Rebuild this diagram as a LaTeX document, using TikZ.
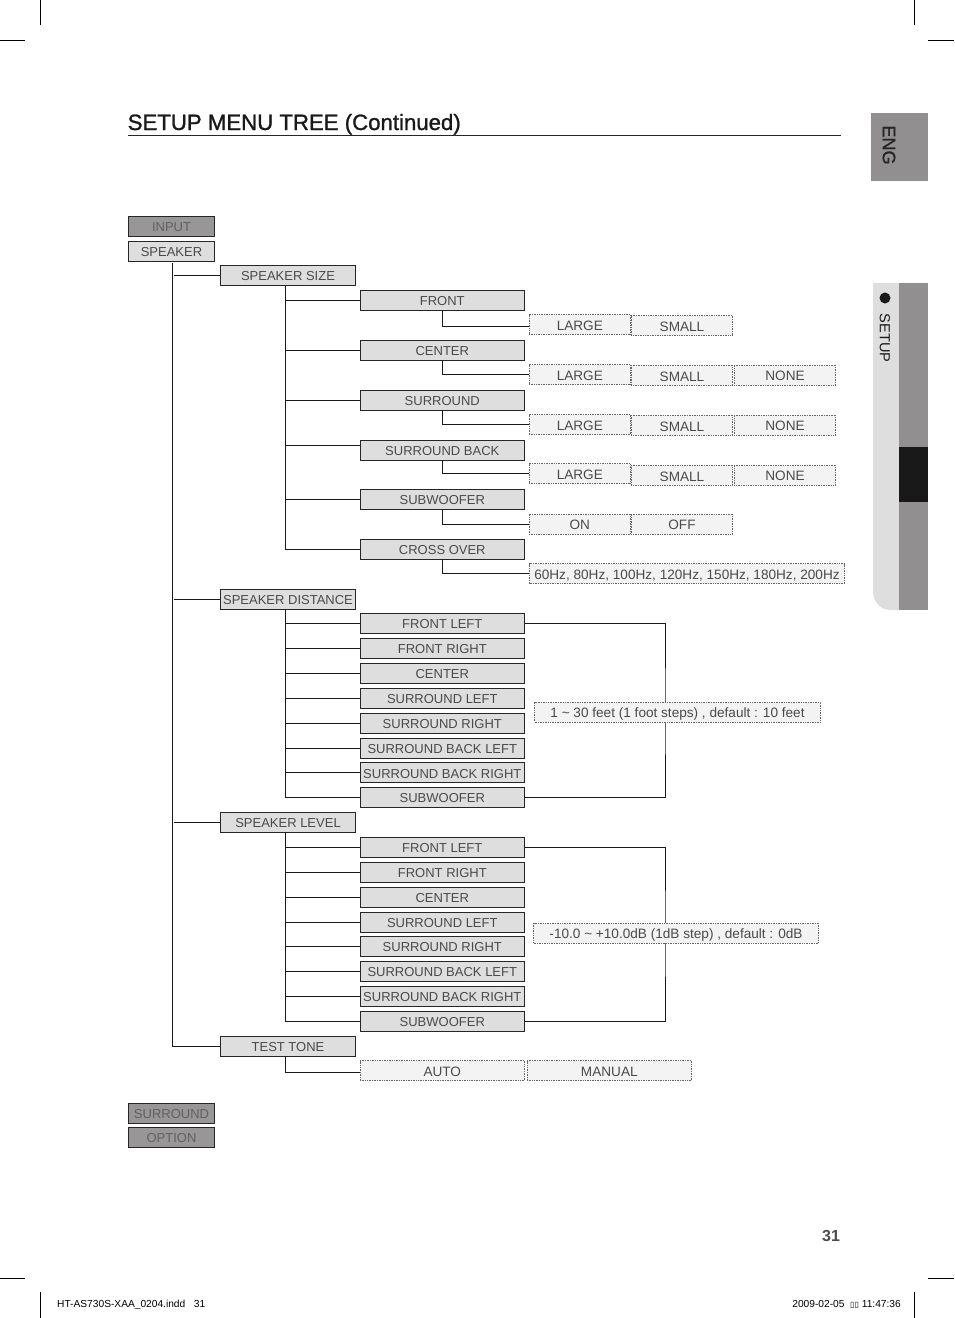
\documentclass[tikz,border=0pt]{standalone}
\usepackage{fontspec}
\setmainfont{Liberation Sans}
\newfontfamily\symfont{DejaVu Sans}
\newfontfamily\heavyfont[FakeBold=1.2]{Liberation Sans}
\usetikzlibrary{calc}
\definecolor{boxgray}{HTML}{DEDEDE}
\definecolor{darkgray}{HTML}{989696}
\definecolor{tabgray}{HTML}{918F90}
\definecolor{valgray}{HTML}{F3F3F3}
\definecolor{inkgray}{HTML}{4A4A4A}
\tikzset{
  menubox/.style={draw=black!85,line width=.9pt,fill=boxgray,text=inkgray,font=\fontsize{13}{14}\selectfont,
    inner sep=0pt,minimum height=20pt,text height=10.6pt,text depth=0pt},
  topbox/.style={menubox,minimum width=86.5pt},
  offbox/.style={topbox,fill=darkgray,text=black!62},
  midbox/.style={menubox,minimum width=135.5pt},
  subbox/.style={menubox,minimum width=164.5pt},
  valbox/.style={draw=black!60,densely dotted,line width=.7pt,fill=valgray,text=inkgray,font=\fontsize{13.6}{14}\selectfont,
    inner sep=0pt,minimum height=20pt,text height=11.6pt,text depth=0pt,minimum width=101.5pt},
  wire/.style={line width=1pt,black!90},
  crop/.style={line width=.6pt,black},
}
\begin{document}
\begin{tikzpicture}[x=1pt,y=-1pt]
\useasboundingbox (0,0) rectangle (954,1318);
% Crop marks
\draw[crop] (40.5,0) -- (40.5,25);
\draw[crop] (0,40.5) -- (25,40.5);
\draw[crop] (914,0) -- (914,25);
\draw[crop] (928,40.5) -- (954,40.5);
\draw[crop] (0,1278) -- (25,1278);
\draw[crop] (40.5,1292) -- (40.5,1318);
\draw[crop] (928,1278) -- (954,1278);
\draw[crop] (914,1292) -- (914,1318);
% Title
\node[anchor=base west,inner sep=0pt,font=\heavyfont\fontsize{22.2}{24}\selectfont,text=black!90] (title) at (127.5,130) {SETUP MENU TREE (Continued)};
\draw[line width=.7pt,black!85] (128,135.5) -- (841,135.5);
% Side tabs
\fill[tabgray] (871,113) rectangle (928,181);
\node[rotate=-90,inner sep=0pt,font=\heavyfont\fontsize{18}{20}\selectfont,text=black!85] (eng) at (889,145) {ENG};
\fill[boxgray] (873,283) -- (899,283) -- (899,610) -- (891,610) .. controls (880,610) and (873,602) .. (873,590) -- cycle;
\fill[tabgray] (899,283) rectangle (928,610);
\fill[black!90] (899,447) rectangle (928,502);
\fill[black!90] (885,298) circle (5.5);
\node[rotate=-90,inner sep=0pt,font=\fontsize{14.6}{16}\selectfont,text=black!90] (setup) at (885,338) {SETUP};
% Top level
\node[offbox] (input) at (171.5,226) {INPUT};
\node[topbox] (speaker) at (171.5,251) {SPEAKER};
\node[offbox] (surround) at (171.5,1113) {SURROUND};
\node[offbox] (option) at (171.5,1137.5) {OPTION};
% Second level
\node[midbox] (size) at (288,275.5) {SPEAKER SIZE};
\node[midbox] (distance) at (288,599) {SPEAKER DISTANCE};
\node[midbox] (level) at (288,822) {SPEAKER LEVEL};
\node[midbox] (tone) at (288,1046) {TEST TONE};
% Speaker size
\node[subbox] (front) at (442.3,300.5) {FRONT};
\node[subbox] (center) at (442.3,350) {CENTER};
\node[subbox] (back) at (442.3,400) {SURROUND};
\node[subbox] (rear) at (442.3,450) {SURROUND BACK};
\node[subbox] (woofer) at (442.3,499) {SUBWOOFER};
\node[subbox] (cross) at (442.3,549) {CROSS OVER};
\node[valbox] (frontlarge) at (579.8,324.8) {LARGE};
\node[valbox] (frontsmall) at (682,325.5) {SMALL};
\node[valbox] (centerlarge) at (579.8,374.8) {LARGE};
\node[valbox] (centersmall) at (682,375.3) {SMALL};
\node[valbox] (centernone) at (785,375) {NONE};
\node[valbox] (backlarge) at (579.8,424.5) {LARGE};
\node[valbox] (backsmall) at (682,425.3) {SMALL};
\node[valbox] (backnone) at (785,425) {NONE};
\node[valbox] (rearlarge) at (579.8,473.8) {LARGE};
\node[valbox] (rearsmall) at (682,475.3) {SMALL};
\node[valbox] (rearnone) at (785,475) {NONE};
\node[valbox] (wooferon) at (579.8,524) {ON};
\node[valbox] (wooferoff) at (682,524) {OFF};
\node[valbox,minimum width=315pt] (crossval) at (687,573.5) {60Hz, 80Hz, 100Hz, 120Hz, 150Hz, 180Hz, 200Hz};
% Speaker distance and level
\foreach \pre/\ya/\yb/\yc/\yd/\ye/\yf/\yg/\yh in {d/623.5/648.5/673.5/698.5/723.3/748/772.8/797.5,l/847/872.3/897/922.3/946.5/971.5/996.5/1021}{
  \node[subbox] (\pre fl) at (442.3,\ya) {FRONT LEFT};
  \node[subbox] (\pre fr) at (442.3,\yb) {FRONT RIGHT};
  \node[subbox] (\pre c) at (442.3,\yc) {CENTER};
  \node[subbox] (\pre sl) at (442.3,\yd) {SURROUND LEFT};
  \node[subbox] (\pre sr) at (442.3,\ye) {SURROUND RIGHT};
  \node[subbox] (\pre bl) at (442.3,\yf) {SURROUND BACK LEFT};
  \node[subbox] (\pre br) at (442.3,\yg) {SURROUND BACK RIGHT};
  \node[subbox] (\pre sub) at (442.3,\yh) {SUBWOOFER};
}
% Test tone
\node[valbox,minimum width=164.5pt] (auto) at (442.3,1070.5) {AUTO};
\node[valbox,minimum width=164.5pt] (manual) at (609.3,1070.5) {MANUAL};
% Trunks
\coordinate (speakertop) at ($(speaker.south)+(.8,0)$);
\coordinate (sizetop) at ($(size.south)+(-2.7,0)$);
\coordinate (distop) at ($(distance.south)+(-2.7,0)$);
\coordinate (levtop) at ($(level.south)+(-2.7,0)$);
\coordinate (tonetop) at ($(tone.south)+(-2.7,0)$);
\coordinate (rearstub) at ($(rear.west)+(0,-4.5)$);
\coordinate (frontstub) at ($(frontlarge.west)+(0,1.5)$);
\coordinate (autostub) at ($(auto.west)+(0,1.5)$);
\draw[wire,shorten <=2pt] (speakertop) |- (tone.west);
\foreach \kid in {size,distance,level}
  \draw[wire,shorten <=2pt] (speakertop |- \kid.west) -- (\kid.west);
\draw[wire] (sizetop) |- (cross.west);
\foreach \kid in {front,center,back,woofer}
  \draw[wire] (sizetop |- \kid.west) -- (\kid.west);
\draw[wire] (sizetop |- rearstub) -- (rearstub);
\draw[wire] (front.south) |- (frontstub);
\draw[wire] (center.south) |- (centerlarge.west);
\draw[wire] (back.south) |- (backlarge.west);
\draw[wire] (rear.south) |- (rearlarge.west);
\draw[wire] (woofer.south) |- (wooferon.west);
\draw[wire] (cross.south) |- (crossval.west);
\draw[wire] (tonetop) |- (autostub);
\draw[wire] (distop) |- (dsub.west);
\foreach \kid in {dfl,dfr,dc,dsl,dsr,dbl,dbr}
  \draw[wire] (distop |- \kid.west) -- (\kid.west);
\draw[wire] (levtop) |- (lsub.west);
\foreach \kid in {lfl,lfr,lc,lsl,lsr,lbl,lbr}
  \draw[wire] (levtop |- \kid.west) -- (\kid.west);
% Brackets, the value boxes sit on them
\coordinate (disbar) at (665,712);
\coordinate (levbar) at (665,933);
\draw[wire] (dfl.east) -| (disbar) |- (dsub.east);
\draw[wire] (lfl.east) -| (levbar) |- (lsub.east);
\node[valbox,minimum width=286pt] (disval) at (677.5,712) {1 \~{} 30 feet (1 foot steps) , default : 10 feet};
\node[valbox,minimum width=285pt] (levval) at (676,933) {-10.0 \~{} +10.0dB (1dB step) , default : 0dB};
% Page number and slug
\node[inner sep=0pt,font=\bfseries\fontsize{16}{18}\selectfont,text=black!70] (page) at (831,1236) {31};
\node[anchor=base west,inner sep=0pt,font=\fontsize{10.2}{11}\selectfont] (slug) at (57,1307) {HT-AS730S-XAA\_0204.indd\ \ \ 31};
\node[anchor=base east,inner sep=0pt,font=\fontsize{10.2}{11}\selectfont] (stamp) at (901,1307) {2009-02-05\ \ {\symfont\fontsize{8}{9}\selectfont ▯▯} 11:47:36};
\end{tikzpicture}
\end{document}
